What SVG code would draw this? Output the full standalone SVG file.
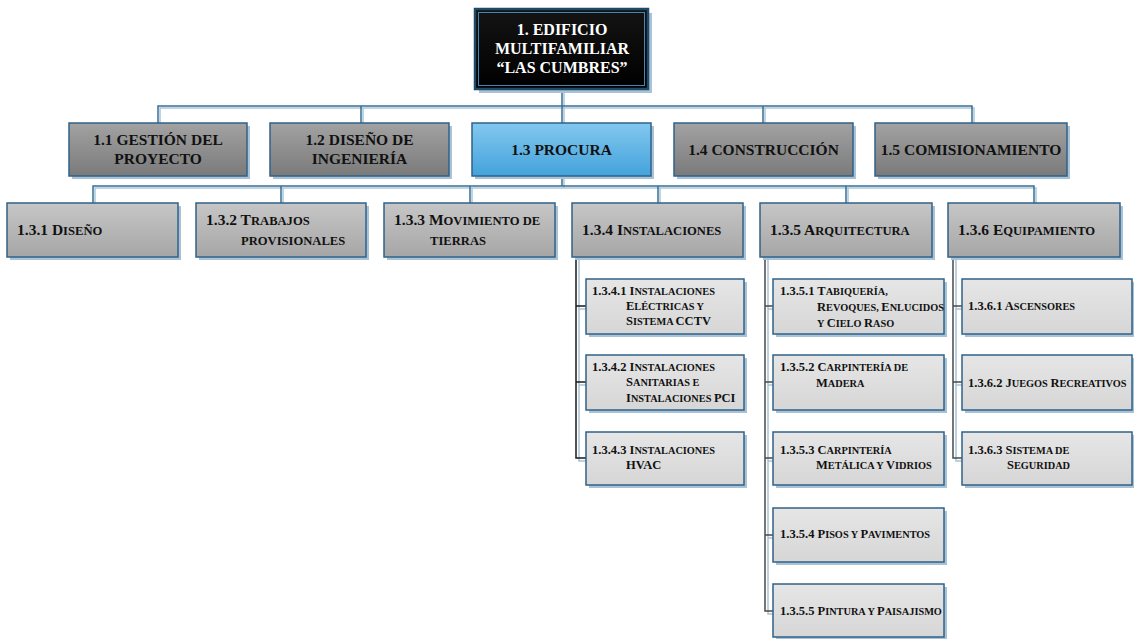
<svg xmlns="http://www.w3.org/2000/svg" width="1134" height="639" viewBox="0 0 1134 639">
  <defs>
    <linearGradient id="gRoot" x1="0" y1="0" x2="0" y2="1">
      <stop offset="0" stop-color="#141414"/>
      <stop offset="1" stop-color="#000"/>
    </linearGradient>
    <linearGradient id="gL1" x1="0" y1="0" x2="0" y2="1">
      <stop offset="0" stop-color="#a2a2a2"/>
      <stop offset="1" stop-color="#7a7a7a"/>
    </linearGradient>
    <linearGradient id="gBlue" x1="0" y1="0" x2="0" y2="1">
      <stop offset="0" stop-color="#82c8ef"/>
      <stop offset="1" stop-color="#44a2db"/>
    </linearGradient>
    <linearGradient id="gL2" x1="0" y1="0" x2="0" y2="1">
      <stop offset="0" stop-color="#c6c6c6"/>
      <stop offset="1" stop-color="#a6a6a6"/>
    </linearGradient>
    <linearGradient id="gL3" x1="0" y1="0" x2="0" y2="1">
      <stop offset="0" stop-color="#e6e6e6"/>
      <stop offset="1" stop-color="#d6d6d6"/>
    </linearGradient>
  </defs>
  <style>
    text { font-family: "Liberation Serif", "Times New Roman", serif; font-weight: bold; fill: #111; }
    .sh { fill: #a9c2d6; }
    .box { stroke: #2f6289; stroke-width: 1.5; }
    .root { fill: url(#gRoot); stroke: #1d4a68; stroke-width: 2.5; }
    .rootIn { fill: none; stroke: #4d86ad; stroke-width: 1; }
    .l1 { fill: url(#gL1); }
    .blue { fill: url(#gBlue); }
    .l2 { fill: url(#gL2); }
    .l3 { fill: url(#gL3); }
    .t0 { font-size: 16px; fill: #fff; text-anchor: middle; }
    .t1 { font-size: 15.5px; text-anchor: middle; }
    .t2 { font-size: 15.5px; }
    .s2 { font-size: 12.6px; }
    .t3 { font-size: 12.5px; }
    .s3 { font-size: 10.3px; }
    .cs { fill: none; stroke: #a9c8dc; stroke-width: 1.5; }
    .cm { fill: none; stroke: #3a6d92; stroke-width: 1.5; }
    .ts { fill: none; stroke: #a9c2d6; stroke-width: 1.5; }
    .tk { fill: none; stroke: #1a1a1a; stroke-width: 1.5; }
    .tg { fill: none; stroke: #4a4a4a; stroke-width: 1.5; }
  </style>

  <!-- connectors -->
  <g id="connectors">
    <!-- top level: shadow then line -->
    <path class="cs" d="M564 91V108 M160 125V108H974V125 M363 108V125 M564 108V125 M765 108V125"/>
    <path class="cm" d="M562 89V106 M158 123V106H972V123 M361 106V123 M562 106V123 M763 106V123"/>
    <!-- second level under 1.3 -->
    <path class="cs" d="M564 178V188 M95 205V188H1036V205 M283 188V205 M472 188V205 M660 188V205 M848 188V205"/>
    <path class="cm" d="M562 176V186 M93 203V186H1034V203 M281 186V203 M470 186V203 M658 186V203 M846 186V203"/>
    <!-- 1.3.4 children -->
    <path class="ts" d="M579 258V461H586 M579 309H586 M579 385H586"/>
    <path class="tk" d="M576 257V458H586 M576 306H586 M576 382H586"/>
    <!-- 1.3.5 children -->
    <path class="ts" d="M768 258V614H773 M768 309H773 M768 385H773 M768 461H773 M768 538H773"/>
    <path class="tg" d="M765 257V611H773 M765 306H773 M765 382H773 M765 458H773 M765 535H773"/>
    <!-- 1.3.6 children -->
    <path class="ts" d="M956 258V461H962 M956 309H962 M956 385H962"/>
    <path class="tg" d="M953 257V458H962 M953 306H962 M953 382H962"/>
  </g>

  <!-- root -->
  <g id="n1">
    <rect class="sh" x="479" y="13" width="173" height="80"/>
    <rect class="root" x="475" y="9" width="173" height="80"/>
    <rect class="rootIn" x="478.5" y="12.5" width="166" height="73"/>
    <text class="t0" x="562" y="35">1. EDIFICIO</text>
    <text class="t0" x="562" y="54">MULTIFAMILIAR</text>
    <text class="t0" x="562" y="73">“LAS CUMBRES”</text>
  </g>

  <!-- level 1 -->
  <g id="n1_1">
    <rect class="sh" x="72" y="126" width="178" height="53"/>
    <rect class="box l1" x="69" y="123" width="178" height="53"/>
    <text class="t1" x="158" y="145">1.1 GESTIÓN DEL</text>
    <text class="t1" x="158" y="164">PROYECTO</text>
  </g>
  <g id="n1_2">
    <rect class="sh" x="273" y="126" width="179" height="53"/>
    <rect class="box l1" x="270" y="123" width="179" height="53"/>
    <text class="t1" x="359.5" y="145">1.2 DISEÑO DE</text>
    <text class="t1" x="359.5" y="164">INGENIERÍA</text>
  </g>
  <g id="n1_3">
    <rect class="sh" x="475" y="126" width="179" height="53"/>
    <rect class="box blue" x="472" y="123" width="179" height="53"/>
    <text class="t1" x="561.5" y="155">1.3 PROCURA</text>
  </g>
  <g id="n1_4">
    <rect class="sh" x="677" y="126" width="179" height="53"/>
    <rect class="box l1" x="674" y="123" width="179" height="53"/>
    <text class="t1" x="763.5" y="155">1.4 CONSTRUCCIÓN</text>
  </g>
  <g id="n1_5">
    <rect class="sh" x="878" y="126" width="192" height="53"/>
    <rect class="box l1" x="875" y="123" width="192" height="53"/>
    <text class="t1" x="971" y="155">1.5 COMISIONAMIENTO</text>
  </g>

  <!-- level 2 -->
  <g id="n1_3_1">
    <rect class="sh" x="10" y="206" width="171" height="54"/>
    <rect class="box l2" x="7" y="203" width="171" height="54"/>
    <text class="t2" x="17" y="235">1.3.1 D<tspan class="s2">ISEÑO</tspan></text>
  </g>
  <g id="n1_3_2">
    <rect class="sh" x="199" y="206" width="170" height="54"/>
    <rect class="box l2" x="196" y="203" width="170" height="54"/>
    <text class="t2" x="206" y="225">1.3.2 T<tspan class="s2">RABAJOS</tspan></text>
    <text class="t2" x="241" y="245"><tspan class="s2">PROVISIONALES</tspan></text>
  </g>
  <g id="n1_3_3">
    <rect class="sh" x="387" y="206" width="171" height="54"/>
    <rect class="box l2" x="384" y="203" width="171" height="54"/>
    <text class="t2" x="394" y="225">1.3.3 M<tspan class="s2">OVIMIENTO DE</tspan></text>
    <text class="t2" x="430" y="245"><tspan class="s2">TIERRAS</tspan></text>
  </g>
  <g id="n1_3_4">
    <rect class="sh" x="575" y="206" width="171" height="54"/>
    <rect class="box l2" x="572" y="203" width="171" height="54"/>
    <text class="t2" x="582" y="235">1.3.4 I<tspan class="s2">NSTALACIONES</tspan></text>
  </g>
  <g id="n1_3_5">
    <rect class="sh" x="763" y="206" width="172" height="54"/>
    <rect class="box l2" x="760" y="203" width="172" height="54"/>
    <text class="t2" x="770" y="235">1.3.5 A<tspan class="s2">RQUITECTURA</tspan></text>
  </g>
  <g id="n1_3_6">
    <rect class="sh" x="951" y="206" width="172" height="54"/>
    <rect class="box l2" x="948" y="203" width="172" height="54"/>
    <text class="t2" x="958" y="235">1.3.6 E<tspan class="s2">QUIPAMIENTO</tspan></text>
  </g>

  <!-- level 3: 1.3.4 -->
  <g id="n1_3_4_1">
    <rect class="sh" x="589" y="282" width="158" height="55"/>
    <rect class="box l3" x="586" y="279" width="158" height="55"/>
    <text class="t3" x="592" y="295">1.3.4.1 I<tspan class="s3">NSTALACIONES</tspan></text>
    <text class="t3" x="626" y="310">E<tspan class="s3">LÉCTRICAS Y</tspan></text>
    <text class="t3" x="626" y="325">S<tspan class="s3">ISTEMA </tspan>CCTV</text>
  </g>
  <g id="n1_3_4_2">
    <rect class="sh" x="589" y="358" width="158" height="55"/>
    <rect class="box l3" x="586" y="355" width="158" height="55"/>
    <text class="t3" x="592" y="371">1.3.4.2 I<tspan class="s3">NSTALACIONES</tspan></text>
    <text class="t3" x="626" y="386">S<tspan class="s3">ANITARIAS E</tspan></text>
    <text class="t3" x="626" y="402">I<tspan class="s3">NSTALACIONES </tspan>PCI</text>
  </g>
  <g id="n1_3_4_3">
    <rect class="sh" x="589" y="435" width="158" height="53"/>
    <rect class="box l3" x="586" y="432" width="158" height="53"/>
    <text class="t3" x="592" y="454">1.3.4.3 I<tspan class="s3">NSTALACIONES</tspan></text>
    <text class="t3" x="626" y="469">HVAC</text>
  </g>

  <!-- level 3: 1.3.5 -->
  <g id="n1_3_5_1">
    <rect class="sh" x="776" y="282" width="171" height="55"/>
    <rect class="box l3" x="773" y="279" width="171" height="55"/>
    <text class="t3" x="780" y="295">1.3.5.1 T<tspan class="s3">ABIQUERÍA,</tspan></text>
    <text class="t3" x="817" y="311">R<tspan class="s3">EVOQUES, </tspan>E<tspan class="s3">NLUCIDOS</tspan></text>
    <text class="t3" x="817" y="327"><tspan class="s3">Y </tspan>C<tspan class="s3">IELO </tspan>R<tspan class="s3">ASO</tspan></text>
  </g>
  <g id="n1_3_5_2">
    <rect class="sh" x="776" y="358" width="171" height="55"/>
    <rect class="box l3" x="773" y="355" width="171" height="55"/>
    <text class="t3" x="780" y="371">1.3.5.2 C<tspan class="s3">ARPINTERÍA DE</tspan></text>
    <text class="t3" x="816" y="387">M<tspan class="s3">ADERA</tspan></text>
  </g>
  <g id="n1_3_5_3">
    <rect class="sh" x="776" y="435" width="171" height="53"/>
    <rect class="box l3" x="773" y="432" width="171" height="53"/>
    <text class="t3" x="780" y="454">1.3.5.3 C<tspan class="s3">ARPINTERÍA</tspan></text>
    <text class="t3" x="816" y="469">M<tspan class="s3">ETÁLICA Y </tspan>V<tspan class="s3">IDRIOS</tspan></text>
  </g>
  <g id="n1_3_5_4">
    <rect class="sh" x="776" y="511" width="171" height="54"/>
    <rect class="box l3" x="773" y="508" width="171" height="54"/>
    <text class="t3" x="780" y="538">1.3.5.4 P<tspan class="s3">ISOS Y </tspan>P<tspan class="s3">AVIMENTOS</tspan></text>
  </g>
  <g id="n1_3_5_5">
    <rect class="sh" x="776" y="587" width="171" height="53"/>
    <rect class="box l3" x="773" y="584" width="171" height="53"/>
    <text class="t3" x="780" y="615">1.3.5.5 P<tspan class="s3">INTURA Y </tspan>P<tspan class="s3">AISAJISMO</tspan></text>
  </g>

  <!-- level 3: 1.3.6 -->
  <g id="n1_3_6_1">
    <rect class="sh" x="965" y="282" width="171" height="55"/>
    <rect class="box l3" x="962" y="279" width="170" height="55"/>
    <text class="t3" x="968" y="310">1.3.6.1 A<tspan class="s3">SCENSORES</tspan></text>
  </g>
  <g id="n1_3_6_2">
    <rect class="sh" x="965" y="358" width="171" height="55"/>
    <rect class="box l3" x="962" y="355" width="170" height="55"/>
    <text class="t3" x="968" y="387">1.3.6.2 J<tspan class="s3">UEGOS </tspan>R<tspan class="s3">ECREATIVOS</tspan></text>
  </g>
  <g id="n1_3_6_3">
    <rect class="sh" x="965" y="435" width="171" height="53"/>
    <rect class="box l3" x="962" y="432" width="170" height="53"/>
    <text class="t3" x="968" y="454">1.3.6.3 S<tspan class="s3">ISTEMA DE</tspan></text>
    <text class="t3" x="1007" y="469">S<tspan class="s3">EGURIDAD</tspan></text>
  </g>
</svg>
